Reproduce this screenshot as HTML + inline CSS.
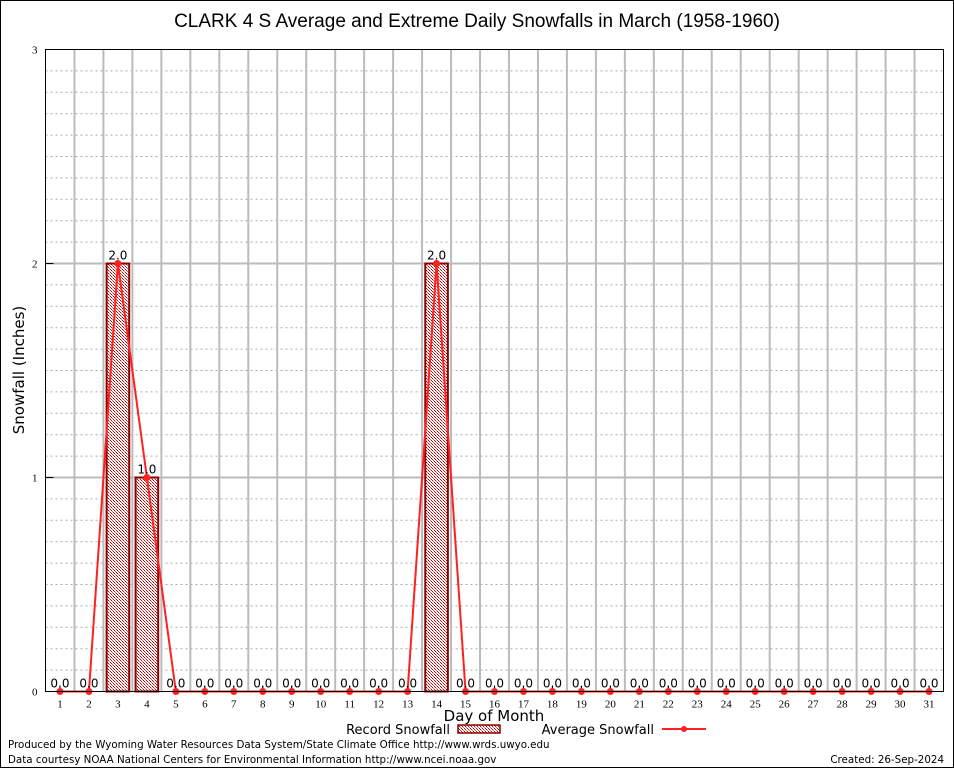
<!DOCTYPE html>
<html><head><meta charset="utf-8"><style>
body{margin:0;background:#fff;}
svg{display:block;font-family:"DejaVu Sans","Liberation Sans",sans-serif;}
</style></head><body>
<svg id="chart" width="954" height="768" viewBox="0 0 954 768">
<defs>
<pattern id="chk" width="3" height="3" patternUnits="userSpaceOnUse">
<rect width="3" height="3" fill="#fff"/>
<rect width="1" height="1" fill="#c00000"/><rect x="1" y="1" width="1" height="1" fill="#e06060"/><rect x="2" y="2" width="1" height="1" fill="#c00000"/>
</pattern>
</defs>
<rect x="0.5" y="0.5" width="953" height="767" fill="#fff" stroke="#000"/>
<text x="477" y="27" font-size="19" text-anchor="middle" font-family="Liberation Sans, sans-serif">CLARK 4 S Average and Extreme Daily Snowfalls in March (1958-1960)</text>
<g id="grid"></g>
<g id="bars"></g>
<g id="line"></g>
<g id="labels"></g>
<rect x="45.5" y="49.5" width="898" height="642" fill="none" stroke="#000"/>
<text transform="translate(24,370) rotate(-90)" font-size="15" text-anchor="middle">Snowfall (Inches)</text>
<text x="494" y="721" font-size="15" text-anchor="middle">Day of Month</text>
<g>
<text x="450" y="734" font-size="13" text-anchor="end">Record Snowfall</text>
<rect x="458" y="725" width="42" height="8" fill="url(#chk)" stroke="#8b0000" stroke-width="1.5"/>
<text x="654" y="734" font-size="13" text-anchor="end">Average Snowfall</text>
<line x1="662" y1="729" x2="706" y2="729" stroke="#ff2020" stroke-width="2"/>
<circle cx="684" cy="729" r="3" fill="#ff2020"/>
</g>
<text x="8" y="748" font-size="10.3">Produced by the Wyoming Water Resources Data System/State Climate Office http://www.wrds.uwyo.edu</text>
<text x="8" y="763" font-size="10.3">Data courtesy NOAA National Centers for Environmental Information http://www.ncei.noaa.gov</text>
<text x="944" y="763" font-size="10.3" text-anchor="end">Created:  26-Sep-2024</text>
</svg>
<script>
const days = [1,2,3,4,5,6,7,8,9,10,11,12,13,14,15,16,17,18,19,20,21,22,23,24,25,26,27,28,29,30,31];
const averageSnow = [0,0,2,1,0,0,0,0,0,0,0,0,0,2,0,0,0,0,0,0,0,0,0,0,0,0,0,0,0,0,0];
const recordSnow = [0,0,2,1,0,0,0,0,0,0,0,0,0,2,0,0,0,0,0,0,0,0,0,0,0,0,0,0,0,0,0];
const yTicks = [0,1,2,3];
const NS="http://www.w3.org/2000/svg";
const L=45.5,R=943.5,T=49.5,B=691.5,yMax=3;
const xS=d=>L+(d-0.5)*(R-L)/days.length;
const yS=v=>B-v*(B-T)/yMax;
function mk(tag,attrs,parent){const e=document.createElementNS(NS,tag);for(const k in attrs)e.setAttribute(k,attrs[k]);parent.appendChild(e);return e;}
const grid=document.getElementById('grid');
for(let i=1;i<yMax*10;i++){ if(i%10===0) continue;
  const g=mk('line',{x1:L,x2:R,y1:yS(i/10),y2:yS(i/10),stroke:'#aaa','stroke-dasharray':'2,3'},grid);
  
  
}
for(let k=1;k<days.length;k++){
  const x=L+k*(R-L)/days.length;
  const g=mk('line',{x1:x,x2:x,y1:T,y2:B,stroke:'#bbb','stroke-width':2},grid);
  
  
}
yTicks.forEach(v=>{
  if(v>0&&v<yMax){const g=mk('line',{x1:L,x2:R,y1:yS(v),y2:yS(v),stroke:'#bbb','stroke-width':2},grid);
    
    }
  const tk=mk('line',{x1:L,x2:L+8,y1:yS(v),y2:yS(v),stroke:'#000'},grid);
  
  
  const t=mk('text',{x:L-8,y:yS(v)+4,'font-size':11,'text-anchor':'end','font-family':'Liberation Serif, serif'},grid);
  t.textContent=v;
  
  
});
days.forEach(d=>{
  const tk=mk('line',{x1:xS(d),x2:xS(d),y1:B,y2:B-6,stroke:'#000'},grid);
  
  
  const t=mk('text',{x:xS(d),y:B+16,'font-size':11,'text-anchor':'middle','font-family':'Liberation Serif, serif'},grid);
  t.textContent=d;
  
  
});
const bars=document.getElementById('bars'),labels=document.getElementById('labels');
const bw=(R-L)/days.length*0.78;
days.forEach((d,i)=>{
  const v=recordSnow[i];
  if(v>0){const b=mk('rect',{x:xS(d)-bw/2,y:yS(v),width:bw,height:B-yS(v),fill:'url(#chk)',stroke:'#8b0000','stroke-width':2},bars);
    
    }
  const t=mk('text',{x:xS(d),y:yS(v)-4,'font-size':12,'text-anchor':'middle'},labels);
  t.textContent=v.toFixed(1);
  
  
});
const line=document.getElementById('line');
const p=mk('polyline',{points:days.map((d,i)=>xS(d)+','+yS(averageSnow[i])).join(' '),fill:'none',stroke:'#ff2020','stroke-width':2},line);


days.forEach((d,i)=>{
  const c=mk('circle',{cx:xS(d),cy:yS(averageSnow[i]),r:3.5,fill:'#ff2020'},line);
  
  
});
</script>
</body></html>
